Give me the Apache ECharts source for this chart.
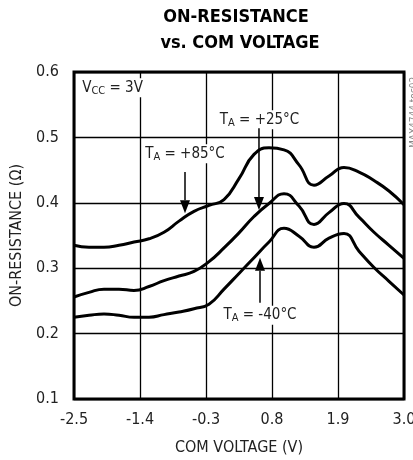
<!DOCTYPE html>
<html>
<head>
<meta charset="utf-8">
<script src="https://cdn.jsdelivr.net/npm/echarts@6/dist/echarts.min.js"></script>
<style>
html,body{margin:0;padding:0;background:#fff;}
#c{width:413px;height:460px;}
</style>
</head>
<body>
<div id="c"></div>
<script>
// ---- data ----
const xValues = [-2.5, -2.25, -2.0, -1.75, -1.5, -1.25, -1.0, -0.75, -0.5, -0.25, 0.0, 0.25, 0.5, 0.75, 1.0, 1.25, 1.5, 1.75, 2.0, 2.25, 2.5, 2.75, 3.0];
const ron85 = [0.335, 0.332, 0.332, 0.335, 0.340, 0.345, 0.355, 0.372, 0.387, 0.396, 0.405, 0.437, 0.474, 0.484, 0.481, 0.458, 0.427, 0.441, 0.454, 0.447, 0.434, 0.418, 0.397];
const ron25 = [0.256, 0.263, 0.268, 0.268, 0.266, 0.272, 0.281, 0.288, 0.295, 0.310, 0.331, 0.354, 0.379, 0.399, 0.414, 0.395, 0.367, 0.385, 0.399, 0.378, 0.355, 0.335, 0.315];
const ronM40 = [0.225, 0.228, 0.230, 0.228, 0.225, 0.225, 0.229, 0.233, 0.238, 0.245, 0.268, 0.292, 0.316, 0.340, 0.361, 0.349, 0.332, 0.346, 0.353, 0.326, 0.301, 0.280, 0.259];
const xTicks = [-2.5, -1.4, -0.3, 0.8, 1.9, 3.0];

const FONT = "'Liberation Sans Narrow', 'Arial Narrow', 'DejaVu Sans Condensed', sans-serif";
const TXT = '#222';

const chart = echarts.init(document.getElementById('c'), null, {renderer: 'canvas'});

const pair = arr => xValues.map((x, i) => [x, arr[i]]);

const annoLabel = {
  show: true,
  position: 'inside',
  color: TXT,
  fontFamily: FONT,
  fontSize: 15,
  backgroundColor: '#fff',
  padding: [1, 2, 1, 2],
  rich: {
    s: {fontFamily: FONT, fontSize: 11, color: TXT, padding: [6, 0, 0, 0]}
  }
};

function note(x, y, text) {
  return {coord: [x, y], value: text, symbol: 'circle', symbolSize: 0,
          label: Object.assign({}, annoLabel, {formatter: text})};
}

// arrows: [x, startY, tipY] in data units
const arrows = [
  [0.583, 0.514, 0.389],
  [-0.65, 0.447, 0.384],
  [0.6, 0.247, 0.316]
];

const lineStyle = {color: '#000', width: 3};

const option = {
  animation: false,
  backgroundColor: '#fff',
  grid: {left: 74, right: 9, top: 72, bottom: 61, outerBoundsMode: 'none', containLabel: false,
         show: true, borderColor: '#000', borderWidth: 3, backgroundColor: 'transparent'},
  xAxis: {
    type: 'value', min: -2.5, max: 3.0,
    axisLine: {show: false},
    axisTick: {show: false, customValues: xTicks},
    axisLabel: {customValues: xTicks, formatter: v => v.toFixed(1), color: TXT, fontFamily: FONT, fontSize: 16, margin: 13},
    splitLine: {show: true, lineStyle: {color: '#000', width: 1.3}},
    name: 'COM VOLTAGE (V)', nameLocation: 'middle', nameGap: 41,
    nameTextStyle: {color: TXT, fontFamily: FONT, fontSize: 16}
  },
  yAxis: {
    type: 'value', min: 0.1, max: 0.6, interval: 0.1,
    axisLine: {show: false},
    axisTick: {show: false},
    axisLabel: {formatter: v => v.toFixed(1), color: TXT, fontFamily: FONT, fontSize: 16, margin: 15},
    splitLine: {show: true, lineStyle: {color: '#000', width: 1.3}},
    name: 'ON-RESISTANCE (Ω)', nameLocation: 'middle', nameGap: 45,
    nameTextStyle: {color: TXT, fontFamily: FONT, fontSize: 16}
  },
  series: [
    {
      name: '+85°C', type: 'line', data: pair(ron85), smooth: true, showSymbol: false,
      lineStyle: lineStyle, z: 3,
      markPoint: {
        symbolSize: 0,
        data: [
          note(-1.858, 0.576, 'V{s|CC} = 3V'),
          note(0.592, 0.527, 'T{s|A} = +25°C'),
          note(-0.65, 0.475, 'T{s|A} = +85°C'),
          note(0.6, 0.228, 'T{s|A} = -40°C')
        ]
      }
    },
    {name: '+25°C', type: 'line', data: pair(ron25), smooth: true, showSymbol: false, lineStyle: lineStyle, z: 3},
    {name: '-40°C', type: 'line', data: pair(ronM40), smooth: true, showSymbol: false, lineStyle: lineStyle, z: 3}
  ]
};
chart.setOption(option);

// arrows and titles drawn as graphics, positioned through the chart's own scales
const g = [
  {type: 'text', x: 236, y: 8, z: 10,
   style: {text: 'ON-RESISTANCE', fill: '#000', font: "bold 18px " + FONT, align: 'center', textAlign: 'center'}},
  {type: 'text', x: 240, y: 34, z: 10,
   style: {text: 'vs. COM VOLTAGE', fill: '#000', font: "bold 18px " + FONT, align: 'center', textAlign: 'center'}},
  {type: 'text', x: 409, y: 148, rotation: Math.PI / 2, z: 10,
   style: {text: 'MAX4744 toc02', fill: '#888', font: "10px " + FONT}}
];
arrows.forEach(a => {
  const p0 = chart.convertToPixel({gridIndex: 0}, [a[0], a[1]]);
  const p1 = chart.convertToPixel({gridIndex: 0}, [a[0], a[2]]);
  const dir = p1[1] > p0[1] ? 1 : -1;
  const headLen = 13, headW = 5;
  const base = p1[1] - dir * headLen;
  g.push({type: 'line', z: 10, shape: {x1: p0[0], y1: p0[1], x2: p0[0], y2: base},
          style: {stroke: '#000', lineWidth: 1.5}});
  g.push({type: 'polygon', z: 10, shape: {points: [[p1[0], p1[1]], [p1[0] - headW, base], [p1[0] + headW, base]]},
          style: {fill: '#000'}});
});
chart.setOption({graphic: g});
</script>
</body>
</html>
